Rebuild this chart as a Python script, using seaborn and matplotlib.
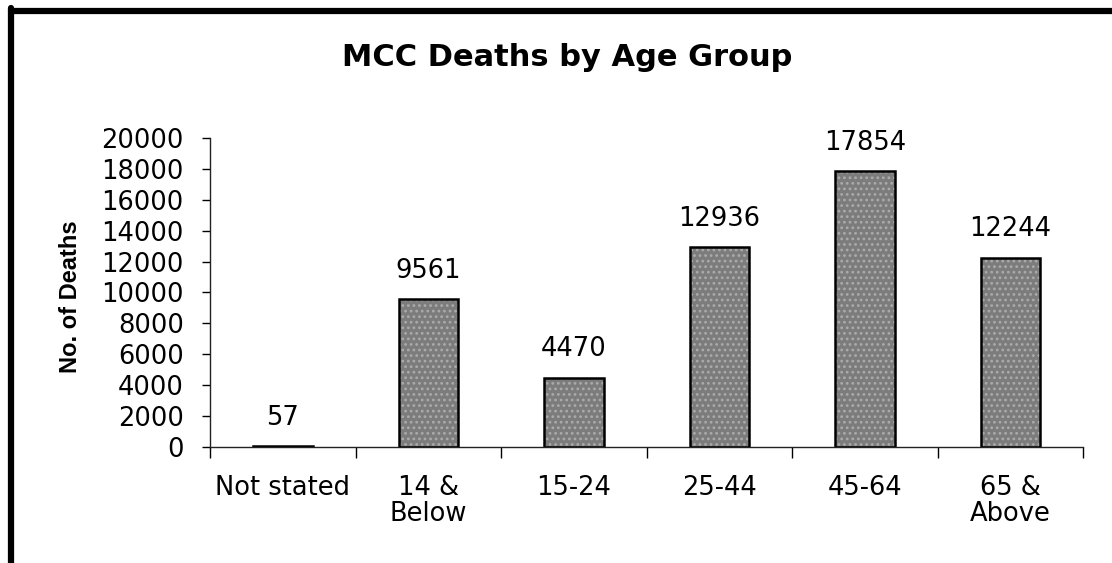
import matplotlib
matplotlib.use('Agg')
import numpy as np
import pandas as pd
import matplotlib.pyplot as plt
import seaborn as sns
from matplotlib.lines import Line2D
from matplotlib.patches import Rectangle

# Data

age_groups = ['Not stated', '14 &\nBelow', '15-24', '25-44', '45-64', '65 &\nAbove']
deaths = [57, 9561, 4470, 12936, 17854, 12244]
y_ticks = [0, 2000, 4000, 6000, 8000, 10000, 12000, 14000, 16000, 18000, 20000]

df = pd.DataFrame({'AgeGroup': age_groups, 'Deaths': deaths})

sns.set_style('white')
plt.rcParams['font.family'] = ['DejaVu Sans']
plt.rcParams['text.color'] = 'black'
plt.rcParams['xtick.color'] = 'black'
plt.rcParams['ytick.color'] = 'black'
plt.rcParams['axes.labelcolor'] = 'black'
plt.rcParams['hatch.linewidth'] = 1.2

fig = plt.figure(figsize=(11.12, 5.63), dpi=100)
ax = fig.add_axes([0.189, 0.206, 0.785, 0.549])

# light dotted fill, outline added afterwards
sns.barplot(data=df, x='AgeGroup', y='Deaths', color='#7c7c7c', width=0.41,
            edgecolor='#ababab', linewidth=0, saturation=1, ax=ax)
for bar in list(ax.patches):
    bar.set_hatch('...')
    ax.add_patch(Rectangle(bar.get_xy(), bar.get_width(), bar.get_height(),
                           facecolor='none', edgecolor='black', linewidth=1.8))

for i, v in enumerate(deaths):
    ax.text(i, v + 1000, str(v), ha='center', va='bottom', fontsize=18.5)

ax.set_xlim(-0.5, len(age_groups) - 0.5)
ax.set_ylim(0, 20000)
ax.set_yticks(y_ticks)
ax.tick_params(axis='y', labelsize=18.5, length=6, width=1, direction='out', left=True, pad=13)
ax.set_xticks(range(len(age_groups)))
ax.set_xticklabels(age_groups, fontsize=18.5, linespacing=1.0)
ax.tick_params(axis='x', which='major', length=0, pad=20)
ax.set_xticks(np.arange(-0.5, len(age_groups), 1.0), minor=True)
ax.tick_params(axis='x', which='minor', length=8, width=1, direction='out', bottom=True)

for side in ['top', 'right']:
    ax.spines[side].set_visible(False)
for side in ['left', 'bottom']:
    ax.spines[side].set_color('#222222')
    ax.spines[side].set_linewidth(1)

ax.set_xlabel('')
ax.set_ylabel('No. of Deaths', fontsize=17, fontweight='bold',
              family=['Liberation Sans', 'DejaVu Sans'])
ax.yaxis.set_label_coords(-0.147, 0.485)
fig.text(0.51, 0.897, 'MCC Deaths by Age Group', ha='center', va='center',
         fontsize=22, fontweight='bold')

# Frame border on the left and top
fig.add_artist(Line2D([0.0099, 0.0099], [0.0, 0.985], color='black', linewidth=4.5,
                      transform=fig.transFigure))
fig.add_artist(Line2D([0.0099, 1.0], [0.980, 0.980], color='black', linewidth=4.5,
                      transform=fig.transFigure))

fig.savefig('out.png', dpi=100)
